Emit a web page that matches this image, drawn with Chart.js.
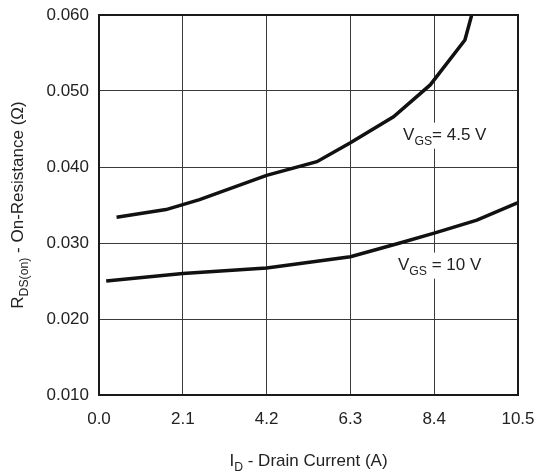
<!DOCTYPE html>
<html>
<head>
<meta charset="utf-8">
<script src="https://cdn.jsdelivr.net/npm/chart.js@4.4.1/dist/chart.umd.min.js"></script>
<style>
    html, body { margin: 0; padding: 0; background: #fff; }
    #wrap { width: 536px; height: 472px; position: relative; }
</style>
</head>
<body>
<div id="wrap"><canvas id="rds-chart"></canvas></div>
<script>
const currentTicks = [0, 2.1, 4.2, 6.3, 8.4, 10.5];
const resistanceTicks = [0.010, 0.020, 0.030, 0.040, 0.050, 0.060];

// VGS = 4.5 V curve
const vgs45Current = [0.44, 1.68, 2.52, 4.2, 5.46, 6.3, 7.38, 8.3, 9.17, 9.34];
const vgs45Rds = [0.0334, 0.0344, 0.0357, 0.0389, 0.0407, 0.0432, 0.0466, 0.0508, 0.0567, 0.0600];

// VGS = 10 V curve
const vgs10Current = [0.18, 2.1, 4.2, 6.3, 7.54, 8.4, 9.47, 10.5];
const vgs10Rds = [0.0250, 0.0260, 0.0267, 0.0282, 0.0300, 0.0313, 0.0330, 0.0353];

const FONT = '"Liberation Sans", Arial, sans-serif';
const INK = '#222';

const toPoints = (xs, ys) => xs.map((x, i) => ({ x, y: ys[i] }));

// text made of runs, some of them subscripted
function drawRich(ctx, parts, x, y, size) {
    let cx = x;
    parts.forEach((p) => {
        const s = p.sub ? size * 0.72 : size;
        ctx.font = s + 'px ' + FONT;
        ctx.fillText(p.t, cx, p.sub ? y + size * 0.3 : y);
        cx += ctx.measureText(p.t).width;
    });
    return cx - x;
}

function richWidth(ctx, parts, size) {
    let w = 0;
    parts.forEach((p) => {
        ctx.font = (p.sub ? size * 0.72 : size) + 'px ' + FONT;
        w += ctx.measureText(p.t).width;
    });
    return w;
}

const curveLabels = [
    { x: 7.62, y: 0.0436, parts: [{ t: 'V' }, { t: 'GS', sub: true }, { t: '= 4.5 V' }] },
    { x: 7.49, y: 0.0265, parts: [{ t: 'V' }, { t: 'GS', sub: true }, { t: ' = 10 V' }] },
];

const decorPlugin = {
    id: 'decor',
    afterDraw(chart) {
        const { ctx, chartArea: a, scales } = chart;
        ctx.save();

        // frame
        ctx.strokeStyle = '#1a1a1a';
        ctx.lineWidth = 2;
        ctx.strokeRect(a.left, a.top, a.right - a.left, a.bottom - a.top);

        ctx.fillStyle = INK;
        ctx.textBaseline = 'alphabetic';
        const size = 17;

        // curve labels on white boxes
        curveLabels.forEach((l) => {
            const px = scales.x.getPixelForValue(l.x);
            const py = scales.y.getPixelForValue(l.y);
            const w = richWidth(ctx, l.parts, size);
            ctx.fillStyle = '#fff';
            ctx.fillRect(px - 3, py - 17, w + 6, 26);
            ctx.fillStyle = INK;
            drawRich(ctx, l.parts, px, py, size);
        });

        // x axis title
        const xParts = [{ t: 'I' }, { t: 'D', sub: true }, { t: ' - Drain Current (A)' }];
        const xw = richWidth(ctx, xParts, size);
        drawRich(ctx, xParts, (a.left + a.right) / 2 - xw / 2, 466, size);

        // y axis title, rotated
        const yParts = [{ t: 'R' }, { t: 'DS(on)', sub: true }, { t: ' - On-Resistance (\u03A9)' }];
        const yw = richWidth(ctx, yParts, size);
        ctx.translate(23, (a.top + a.bottom) / 2);
        ctx.rotate(-Math.PI / 2);
        drawRich(ctx, yParts, -yw / 2, 0, size);

        ctx.restore();
    },
};

new Chart(document.getElementById('rds-chart'), {
    type: 'line',
    data: {
        datasets: [
            {
                label: 'VGS = 4.5 V',
                data: toPoints(vgs45Current, vgs45Rds),
                borderColor: '#111',
                borderWidth: 3.5,
                pointRadius: 0,
                tension: 0,
                fill: false,
            },
            {
                label: 'VGS = 10 V',
                data: toPoints(vgs10Current, vgs10Rds),
                borderColor: '#111',
                borderWidth: 3.5,
                pointRadius: 0,
                tension: 0,
                fill: false,
            },
        ],
    },
    options: {
        responsive: true,
        maintainAspectRatio: false,
        animation: false,
        layout: { autoPadding: false, padding: { top: 15, right: 18, left: 0, bottom: 0 } },
        plugins: {
            legend: { display: false },
            tooltip: { enabled: false },
        },
        scales: {
            x: {
                type: 'linear',
                min: 0,
                max: 10.5,
                afterBuildTicks: (s) => { s.ticks = currentTicks.map((v) => ({ value: v })); },
                afterFit: (s) => {
                    s.height = 77;
                    s.paddingLeft = 0;
                    s.paddingRight = 0;
                },
                grid: { color: '#3a3a3a', lineWidth: 1, drawTicks: false },
                border: { display: false },
                ticks: {
                    color: INK,
                    padding: 14,
                    maxRotation: 0,
                    font: { family: FONT, size: 17 },
                    callback: (v) => Number(v).toFixed(1),
                },
            },
            y: {
                type: 'linear',
                min: 0.01,
                max: 0.06,
                afterBuildTicks: (s) => { s.ticks = resistanceTicks.map((v) => ({ value: v })); },
                afterFit: (s) => {
                    s.width = 99;
                    s.paddingTop = 0;
                    s.paddingBottom = 0;
                },
                grid: { color: '#3a3a3a', lineWidth: 1, drawTicks: false },
                border: { display: false },
                ticks: {
                    color: INK,
                    padding: 10,
                    font: { family: FONT, size: 17 },
                    callback: (v) => Number(v).toFixed(3),
                },
            },
        },
    },
    plugins: [decorPlugin],
});
</script>
</body>
</html>
